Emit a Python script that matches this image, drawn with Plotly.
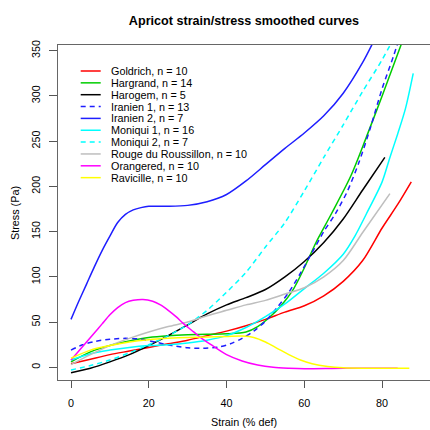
import plotly.graph_objects as go

# ---------------- data ----------------
goldrich_x = [0, 5, 10, 15, 20, 25, 30, 35, 40, 45, 50, 55, 60, 65, 70, 75, 80, 84, 87.5]
goldrich_y = [4, 9, 14, 18, 22, 26, 30, 35, 40, 46, 53, 61, 68, 79, 95, 118, 154, 180, 205]

hargrand_x = [0, 5, 10, 15, 20, 25, 30, 35, 40, 45, 48, 51, 54, 57, 60, 63, 67, 72, 76, 80, 85]
hargrand_y = [6, 17, 24, 29, 33, 35, 36, 36.5, 37, 39, 45, 55, 68, 85, 110, 138, 170, 212, 255, 300, 358]

harogem_x = [0, 5, 10, 15, 20, 25, 30, 35, 40, 45, 50, 55, 60, 65, 70, 75, 80.7]
harogem_y = [-6, -1, 6, 14, 24, 35, 47, 59, 69, 77, 86, 100, 117, 138, 164, 196, 232]

iranien1_x = [0, 3, 6, 10, 14, 18, 22, 26, 30, 34, 38, 41, 44, 47, 50, 53, 56, 59, 62, 65, 68, 71, 74, 77, 80, 83, 86]
iranien1_y = [19, 25, 28.5, 31, 32, 31, 27.5, 24, 21.5, 21, 22.5, 26, 32, 40, 51, 66, 83, 104, 127, 150, 170, 194, 226, 265, 308, 345, 385]

iranien2_x = [0, 2, 4, 6, 8, 10, 12, 14, 16, 18, 20, 25, 30, 35, 40, 45, 50, 55, 60, 65, 70, 75, 78]
iranien2_y = [53, 73, 92, 111, 129, 145, 160, 169, 174, 176.5, 178, 178, 179, 183, 191, 206, 224, 242, 259, 278, 303, 337, 362]

moniqui1_x = [0, 5, 10, 15, 20, 25, 30, 35, 40, 45, 50, 55, 60, 65, 70, 73, 76, 80, 82, 84, 86, 88]
moniqui1_y = [8, 15, 19, 22, 24, 25, 27, 30, 35, 44, 56, 70, 87, 104, 125, 145, 170, 205, 232, 258, 286, 325]

moniqui2_x = [0, 5, 10, 15, 20, 25, 30, 35, 40, 45, 50, 55, 60, 65, 70, 75, 80, 84]
moniqui2_y = [-3, 2, 8, 16, 25, 35, 47, 63, 83, 105, 133, 160, 195, 232, 268, 305, 340, 372]

rouge_x = [0, 5, 10, 15, 20, 25, 30, 35, 40, 45, 50, 55, 60, 65, 70, 75, 82]
rouge_y = [3, 14, 24, 32, 39, 45, 50, 57, 63, 69, 74, 81, 88, 100, 118, 149, 192]

orangered_x = [0, 2, 4, 6, 8, 10, 12, 14, 16, 18.5, 21, 23, 25, 27, 29, 31, 33, 36, 40, 44, 48, 52, 56, 60, 70, 84]
orangered_y = [8, 18, 28, 38, 48, 58, 66, 71.5, 74, 75, 73, 69, 63, 56, 48, 41, 34, 25, 14, 7, 2.5, 0, -1, -1.5, -1, -1]

ravicille_x = [0, 5, 10, 15, 20, 25, 30, 35, 40, 44, 47, 50, 53, 56, 59, 62, 66, 70, 75, 87]
ravicille_y = [10, 19, 24, 28, 30.5, 32, 33, 33.5, 34, 34.5, 33, 28, 21, 14, 8, 4, 1, -0.5, -1, -1]

names = ["Goldrich, n = 10", "Hargrand, n = 14", "Harogem, n = 5", "Iranien 1, n = 13",
         "Iranien 2, n = 7", "Moniqui 1, n = 16", "Moniqui 2, n = 7",
         "Rouge du Roussillon, n = 10", "Orangered, n = 10", "Ravicille, n = 10"]
xs = [goldrich_x, hargrand_x, harogem_x, iranien1_x, iranien2_x, moniqui1_x, moniqui2_x,
      rouge_x, orangered_x, ravicille_x]
ys = [goldrich_y, hargrand_y, harogem_y, iranien1_y, iranien2_y, moniqui1_y, moniqui2_y,
      rouge_y, orangered_y, ravicille_y]
colors = ["#FF0000", "#00CD00", "#000000", "#1E1EFF", "#1E1EFF", "#00FFFF", "#00FFFF",
          "#BEBEBE", "#FF00FF", "#FFFF00"]
dashes = ["solid", "solid", "solid", "5px,4px", "solid", "solid", "5px,4px",
          "solid", "solid", "solid"]

x_ticks = [0, 20, 40, 60, 80]
y_ticks = [0, 50, 100, 150, 200, 250, 300, 350]

# ---------------- layout geometry (pixels) ----------------
W, H = 430, 430
L, R, T, B = 58, 430, 45, 380
FONT = "Liberation Sans, Arial, Helvetica, sans-serif"


def pxx(px):
    return (px - L) / (R - L)


def pyy(py):
    return (B - py) / (B - T)


fig = go.Figure()
for x, y, n, c, d in zip(xs, ys, names, colors, dashes):
    fig.add_trace(go.Scatter(x=x, y=y, mode="lines", name=n,
                             line=dict(color=c, width=1.5, dash=d, shape="spline", smoothing=0.8),
                             showlegend=False, hoverinfo="skip"))

# manual legend (R style: compact rows, no box)
shapes = []
annotations = []
row0, step = 71.0, 11.85
for i, (n, c, d) in enumerate(zip(names, colors, dashes)):
    py = row0 + i * step
    shapes.append(dict(type="line", xref="paper", yref="paper",
                       x0=pxx(80.7), x1=pxx(100.7), y0=pyy(py), y1=pyy(py),
                       line=dict(color=c, width=1.5, dash=d)))
    annotations.append(dict(text=n, xref="paper", yref="paper", x=pxx(108.5), y=pyy(py),
                            xanchor="left", yanchor="middle", showarrow=False,
                            font=dict(family=FONT, size=10.8, color="#000")))

# axis titles
annotations.append(dict(text="Strain (% def)", xref="paper", yref="paper", x=0.5, y=pyy(429.5),
                        xanchor="center", yanchor="bottom", showarrow=False,
                        font=dict(family=FONT, size=10.8, color="#000")))
annotations.append(dict(text="Stress (Pa)", xref="paper", yref="paper", x=pxx(15), y=pyy(213),
                        xanchor="center", yanchor="middle", textangle=-90, showarrow=False,
                        font=dict(family=FONT, size=10.8, color="#000")))

fig.update_layout(
    template="none",
    width=W, height=H, autosize=False,
    margin=dict(l=L, r=W - R, t=T, b=H - B, pad=0, autoexpand=False),
    paper_bgcolor="white", plot_bgcolor="white",
    showlegend=False,
    title=dict(text="<b>Apricot strain/stress smoothed curves</b>", x=0.5, xref="paper",
               y=1 - 20.7 / H, yref="container", xanchor="center", yanchor="middle",
               font=dict(family=FONT, size=12.6, color="#000")),
    shapes=shapes, annotations=annotations,
    font=dict(family=FONT, size=10.8, color="#000"),
)
fig.update_xaxes(range=[(L - 71) / 3.889, (R - 71) / 3.889], tickvals=x_ticks, automargin=False,
                 showgrid=False, zeroline=False, showline=True, mirror=True,
                 linecolor="#666", linewidth=1.3, ticks="outside", ticklen=7,
                 tickcolor="#555", tickwidth=1, ticklabelstandoff=6,
                 tickfont=dict(family=FONT, size=10.8, color="#000"))
fig.update_yaxes(range=[(367.3 - B) / 0.9046, (367.3 - T) / 0.9046], tickvals=y_ticks,
                 automargin=False,
                 showgrid=False, zeroline=False, showline=True, mirror=False,
                 linecolor="#666", linewidth=1.3, ticks="outside", ticklen=8,
                 tickcolor="#555", tickwidth=1, tickangle=-90, ticklabelstandoff=4,
                 tickfont=dict(family=FONT, size=10.8, color="#000"))

# remove the browser's default 8px page margin so the figure sits at the window origin
fig.write_html("out.html",
               config={"displayModeBar": False, "staticPlot": True},
               post_script="document.body.style.margin='0';document.body.style.overflow='hidden';")
